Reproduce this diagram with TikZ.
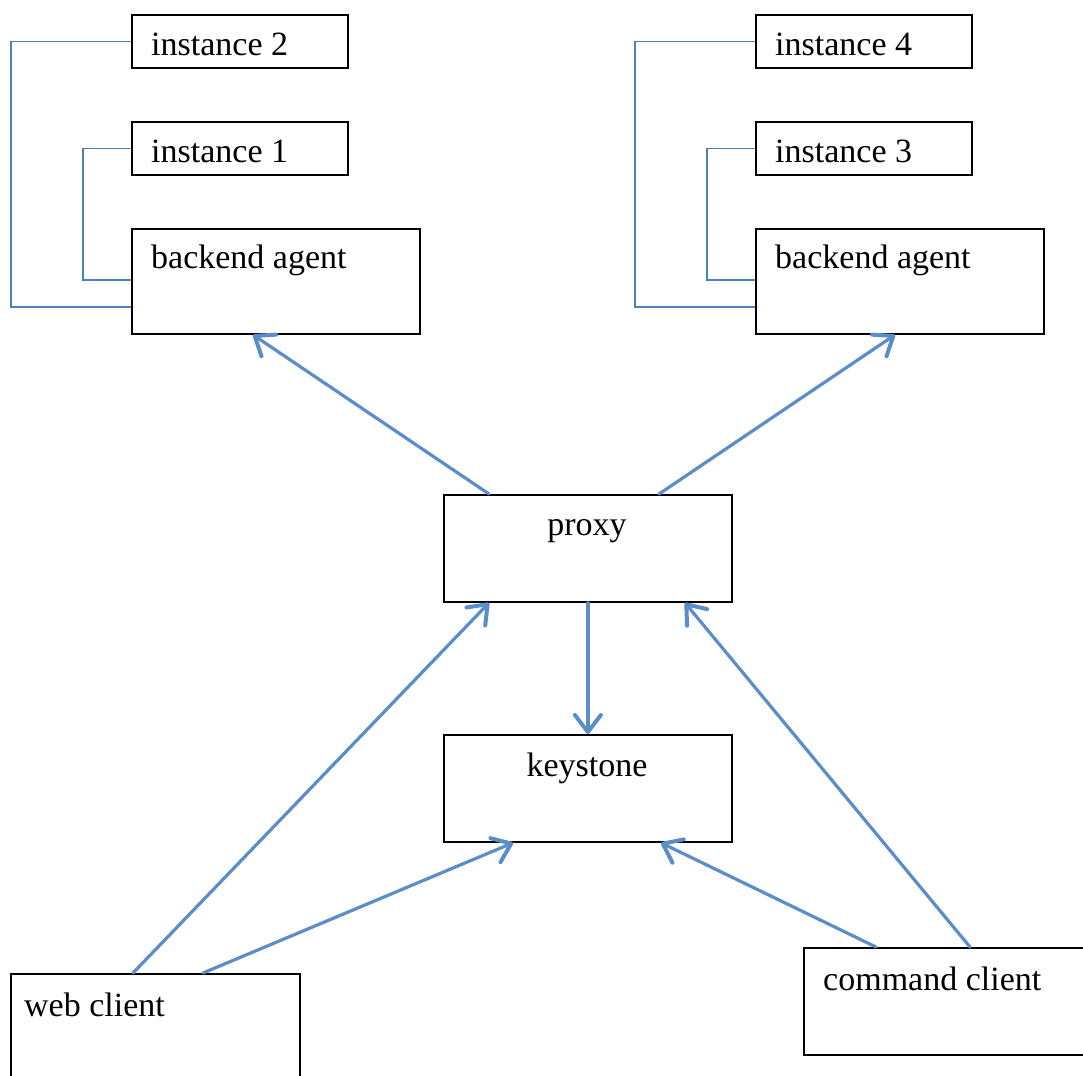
\documentclass[tikz,border=0pt]{standalone}
\usepackage{fontspec}
\setmainfont{Liberation Serif}
\usetikzlibrary{arrows.meta,calc}
\definecolor{arrowblue}{HTML}{5B8DC9}
\definecolor{linkblue}{HTML}{4F81BD}
\tikzset{
  box/.style={draw=black, line width=1.8pt, inner sep=0pt, anchor=north west},
  lbl/.style={inner sep=0pt, anchor=base west, font=\fontsize{34}{40}\selectfont},
  clbl/.style={inner sep=0pt, anchor=base, font=\fontsize{34}{40}\selectfont},
  bracket/.style={draw=linkblue, line width=1.2pt},
  arr/.style={draw=arrowblue, line width=3.2pt, line cap=round,
    -{Straight Barb[length=17pt,width=26pt,line width=4pt,line cap=round,line join=round]}},
}
\begin{document}
\begin{tikzpicture}[x=1pt,y=-1pt]
\useasboundingbox (0,0) rectangle (1083,1075);
\clip (0,0) rectangle (1083,1075);
\fill[white] (0,0) rectangle (1083,1075);

% left group
\node[box, minimum width=216pt, minimum height=53pt] (i2) at (131,14) {};
\node[box, minimum width=216pt, minimum height=53pt] (i1) at (131,121) {};
\node[box, minimum width=288pt, minimum height=105pt] (bL) at (131,228) {};
\node[lbl] (i2t) at (151,56) {instance 2};
\node[lbl] (i1t) at (151,163) {instance 1};
\node[lbl] (bLt) at (151,269) {backend agent};

% right group
\node[box, minimum width=216pt, minimum height=53pt] (i4) at (755,14) {};
\node[box, minimum width=216pt, minimum height=53pt] (i3) at (755,121) {};
\node[box, minimum width=288pt, minimum height=105pt] (bR) at (755,228) {};
\node[lbl] (i4t) at (775,56) {instance 4};
\node[lbl] (i3t) at (775,163) {instance 3};
\node[lbl] (bRt) at (775,269) {backend agent};

% middle
\node[box, minimum width=288pt, minimum height=107pt] (proxy) at (443,494) {};
\node[box, minimum width=288pt, minimum height=107pt] (key) at (443,734) {};
\node[clbl] (proxyt) at (587,535) {proxy};
\node[clbl] (keyt) at (587,776) {keystone};

% clients
\node[box, minimum width=289pt, minimum height=130pt] (web) at (10,973) {};
\node[box, minimum width=310pt, minimum height=107pt] (cmd) at (803,947) {};
\node[lbl] (webt) at (24,1016) {web client};
\node[lbl] (cmdt) at (823,990) {command client};

% brackets
\coordinate (bLo) at ($(bL.north west)+(0,79)$);
\coordinate (bLi) at ($(bL.north west)+(0,52)$);
\coordinate (bRo) at ($(bR.north west)+(0,79)$);
\coordinate (bRi) at ($(bR.north west)+(0,52)$);
\draw[bracket] (i2.west) -- ++(-120,0) |- (bLo);
\draw[bracket] (i1.west) -- ++(-48,0) |- (bLi);
\draw[bracket] (i4.west) -- ++(-120,0) |- (bRo);
\draw[bracket] (i3.west) -- ++(-48,0) |- (bRi);

% arrows
\draw[arr] ([xshift=46pt]proxy.north west) -- ([xshift=122pt]bL.south west);
\draw[arr] ([xshift=216pt]proxy.north west) -- ([xshift=140pt]bR.south west);
\draw[arr] (proxy.south) -- (key.north);
\draw[arr] ([xshift=123pt]web.north west) -- ([xshift=46pt]proxy.south west);
\draw[arr] ([xshift=193pt]web.north west) -- ([xshift=70pt]key.south west);
\draw[arr] ([xshift=167pt]cmd.north west) -- ([xshift=242pt]proxy.south west);
\draw[arr] ([xshift=73pt]cmd.north west) -- ([xshift=218pt]key.south west);
\end{tikzpicture}
\end{document}
